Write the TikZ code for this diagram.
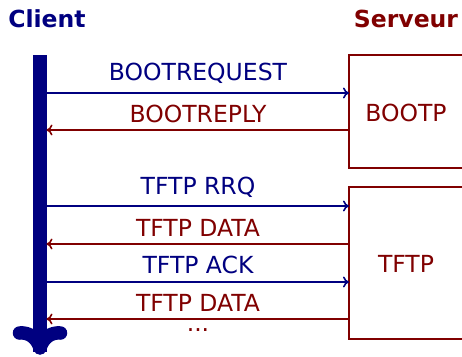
\documentclass[tikz,border=0pt]{standalone}
\usepackage{fontspec}
\setmainfont{DejaVu Sans}
\usetikzlibrary{arrows.meta}
\definecolor{cli}{HTML}{000080}
\definecolor{srv}{HTML}{800000}
\begin{document}
\begin{tikzpicture}[x=1pt,y=-1pt,
  every node/.style={font=\fontsize{23.5}{28}\selectfont, inner sep=0pt},
  req/.style={draw=cli, line width=1.6pt, -{To[length=6pt,width=11pt]}},
  rep/.style={draw=srv, line width=1.6pt, -{To[length=6pt,width=11pt]}},
  reqlbl/.style={text=cli},
  replbl/.style={text=srv},
  srvbox/.style={draw=srv, line width=2pt},
  timeline/.style={draw=cli, line width=13.5pt, line cap=round, line join=round}]
\useasboundingbox (0,0) rectangle (462,356);

% headers
\node[text=cli, font=\fontsize{23.5}{28}\selectfont\bfseries] (client) at (47,19) {Client};
\node[text=srv, font=\fontsize{23.5}{28}\selectfont\bfseries] (serveur) at (406,19) {Serveur};

% client timeline: thick shaft with a curved, round-capped head
\coordinate (ctop) at (40,55);
\coordinate (cbot) at (40,348);
\coordinate (armL) at (19.5,333);
\coordinate (armR) at (60.5,333);
\draw[cli, line width=13.5pt] (ctop) -- ([yshift=-4pt]cbot);
\draw[timeline] (armL) .. controls (29,332) and (37,338) .. (cbot)
                       .. controls (43,338) and (51,332) .. (armR);

% server boxes (open to the right)
\draw[srvbox] (470,55) -- (349,55) -- (349,168) -- (470,168);
\draw[srvbox] (470,187) -- (349,187) -- (349,339) -- (470,339);
\node[text=srv] (bootp) at (406,113) {BOOTP};
\node[text=srv] (tftp) at (406,264) {TFTP};

% message end points
\coordinate (c1) at (46.5,93);   \coordinate (s1) at (349,93);
\coordinate (c2) at (46.5,130);  \coordinate (s2) at (349,130);
\coordinate (c3) at (46.5,206);  \coordinate (s3) at (349,206);
\coordinate (c4) at (46.5,244);  \coordinate (s4) at (349,244);
\coordinate (c5) at (46.5,282);  \coordinate (s5) at (349,282);
\coordinate (c6) at (46.5,319);  \coordinate (s6) at (349,319);

\draw[req] (c1) -- (s1);
\draw[rep] (s2) -- (c2);
\draw[req] (c3) -- (s3);
\draw[rep] (s4) -- (c4);
\draw[req] (c5) -- (s5);
\draw[rep] (s6) -- (c6);

% message labels
\node[reqlbl] (m1) at (198,73) {BOOTREQUEST};
\node[replbl] (m2) at (198,114) {BOOTREPLY};
\node[reqlbl] (m3) at (198,187) {TFTP RRQ};
\node[replbl] (m4) at (198,228) {TFTP DATA};
\node[reqlbl] (m5) at (198,265) {TFTP ACK};
\node[replbl] (m6) at (198,303) {TFTP DATA};
\node[replbl] (dots) at (198,330) {...};
\end{tikzpicture}
\end{document}
